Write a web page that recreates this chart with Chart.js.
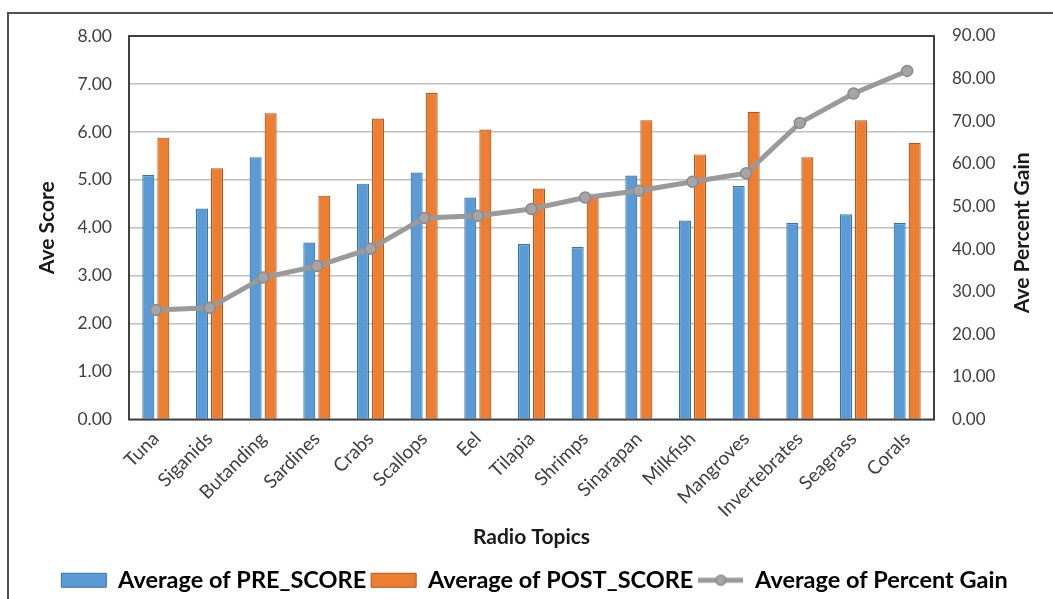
<!DOCTYPE html>
<html>
<head>
<meta charset="utf-8">
<script src="https://cdn.jsdelivr.net/npm/chart.js@4.4.1/dist/chart.umd.min.js"></script>
<style>
  html, body { margin: 0; padding: 0; background: #ffffff; }
  #wrap { position: relative; width: 1053px; height: 599px; overflow: hidden; }
  #frame { position: absolute; left: 7px; top: 12px; width: 1200px; height: 700px;
           border-left: 2px solid #505050; border-top: 2px solid #505050; box-sizing: border-box; }
  canvas { position: absolute; left: 0; top: 0; }
</style>
</head>
<body>
<div id="wrap">
  <div id="frame"></div>
  <canvas id="chart" width="1053" height="599"></canvas>
</div>
<script>
// Radio topics and their average scores
const topics = ['Tuna', 'Siganids', 'Butanding', 'Sardines', 'Crabs', 'Scallops', 'Eel', 'Tilapia',
                'Shrimps', 'Sinarapan', 'Milkfish', 'Mangroves', 'Invertebrates', 'Seagrass', 'Corals'];
const preScore  = [5.10, 4.40, 5.47, 3.69, 4.92, 5.15, 4.63, 3.66, 3.60, 5.09, 4.15, 4.87, 4.10, 4.28, 4.10];
const postScore = [5.88, 5.24, 6.39, 4.67, 6.28, 6.81, 6.05, 4.82, 4.63, 6.24, 5.53, 6.42, 5.47, 6.24, 5.77];
const percentGain = [25.7, 26.2, 33.3, 36.0, 40.1, 47.3, 47.8, 49.4, 52.1, 53.7, 55.8, 57.8, 69.6, 76.5, 81.8];

const FONT = 'Lato, "Open Sans", sans-serif';
const TEXT = '#404040';
const TITLE = '#1a1a1a';

// legend icon for the percent-gain line: a short line with a round marker
function lineIcon() {
  const c = document.createElement('canvas');
  c.width = 45; c.height = 14;
  const g = c.getContext('2d');
  g.strokeStyle = '#9a9a9a'; g.lineWidth = 5;
  g.beginPath(); g.moveTo(0, 7); g.lineTo(45, 7); g.stroke();
  g.fillStyle = '#a5a5a5'; g.strokeStyle = '#8a8a8a'; g.lineWidth = 1.5;
  g.beginPath(); g.arc(22.5, 7, 5, 0, Math.PI * 2); g.fill(); g.stroke();
  return c;
}
const gainIcon = lineIcon();

// dark box around the plotting area, plus the right-hand axis title read bottom-to-top
const plotFrame = {
  id: 'plotFrame',
  afterDatasetsDraw(chart) {
    const a = chart.chartArea, ctx = chart.ctx;
    ctx.save();
    ctx.strokeStyle = '#404040';
    ctx.lineWidth = 2;
    ctx.strokeRect(a.left, a.top, a.right - a.left, a.bottom - a.top);
    ctx.restore();
  },
  afterDraw(chart) {
    const s = chart.scales.y1, ctx = chart.ctx;
    ctx.save();
    ctx.translate(s.right - 12, (chart.chartArea.top + chart.chartArea.bottom) / 2 + 5);
    ctx.rotate(-Math.PI / 2);
    ctx.font = 'bold 21px ' + FONT;
    ctx.fillStyle = TITLE;
    ctx.textAlign = 'center';
    ctx.textBaseline = 'middle';
    ctx.fillText('Ave Percent Gain', 0, 0);
    ctx.restore();
  }
};

new Chart(document.getElementById('chart'), {
  data: {
    labels: topics,
    datasets: [
      {
        type: 'line', label: 'Average of Percent Gain', data: percentGain, yAxisID: 'y1',
        borderColor: '#9a9a9a', borderWidth: 5, backgroundColor: '#a5a5a5',
        pointRadius: 5.5, pointBackgroundColor: '#a5a5a5', pointBorderColor: '#8a8a8a', pointBorderWidth: 1.5,
        pointStyle: 'circle', tension: 0, order: 0
      },
      {
        type: 'bar', label: 'Average of PRE_SCORE', data: preScore, yAxisID: 'y',
        backgroundColor: '#5b9bd5', borderColor: '#3a72a8', borderWidth: 1.2,
        categoryPercentage: 0.56, barPercentage: 0.8, order: 1
      },
      {
        type: 'bar', label: 'Average of POST_SCORE', data: postScore, yAxisID: 'y',
        backgroundColor: '#ed7d31', borderColor: '#b0561a', borderWidth: 1.2,
        categoryPercentage: 0.56, barPercentage: 0.8, order: 1
      }
    ]
  },
  options: {
    responsive: false,
    animation: false,
    devicePixelRatio: 1,
    layout: { padding: { left: 35, right: 19, top: 36, bottom: -3 } },
    plugins: {
      tooltip: { enabled: false },
      legend: {
        position: 'bottom',
        labels: {
          usePointStyle: true, pointStyleWidth: 45, boxHeight: 14, padding: 5,
          color: TITLE, font: { family: FONT, size: 23.5, weight: 'bold' },
          sort: (a, b) => [1, 2, 0].indexOf(a.datasetIndex) - [1, 2, 0].indexOf(b.datasetIndex),
          generateLabels(chart) {
            return chart.data.datasets.map((ds, i) => ({
              text: ds.label, datasetIndex: i,
              fillStyle: ds.backgroundColor, strokeStyle: ds.borderColor, lineWidth: 1,
              pointStyle: ds.type === 'line' ? gainIcon : 'rect', hidden: false
            }));
          }
        }
      }
    },
    scales: {
      x: {
        offset: true,
        grid: { display: false, drawTicks: false },
        border: { display: false },
        ticks: { color: TEXT, font: { family: FONT, size: 19 }, minRotation: 45, maxRotation: 45, padding: 8,
                 autoSkip: false },
        title: { display: true, text: 'Radio Topics', color: TITLE, padding: { top: 0, bottom: 14 },
                 font: { family: FONT, size: 21, weight: 'bold' } },
        afterFit(s) { s.height = 144; }
      },
      y: {
        position: 'left', min: 0, max: 8,
        grid: { color: '#c0c0c0', lineWidth: 1.5, drawTicks: false },
        border: { display: false },
        ticks: { stepSize: 1, color: TEXT, font: { family: FONT, size: 17.5 }, padding: 17,
                 callback: v => Number(v).toFixed(2) },
        title: { display: true, text: 'Ave Score', color: TITLE, padding: 0,
                 font: { family: FONT, size: 21, weight: 'bold' } },
        afterFit(s) { s.width = 94; }
      },
      y1: {
        position: 'right', min: 0, max: 90,
        grid: { display: false, drawTicks: false },
        border: { display: false },
        ticks: { stepSize: 10, color: TEXT, font: { family: FONT, size: 17 }, padding: 18,
                 callback: v => Number(v).toFixed(2) },
        title: { display: false },
        afterFit(s) { s.width = 100; }
      }
    }
  },
  plugins: [plotFrame]
});
</script>
</body>
</html>
